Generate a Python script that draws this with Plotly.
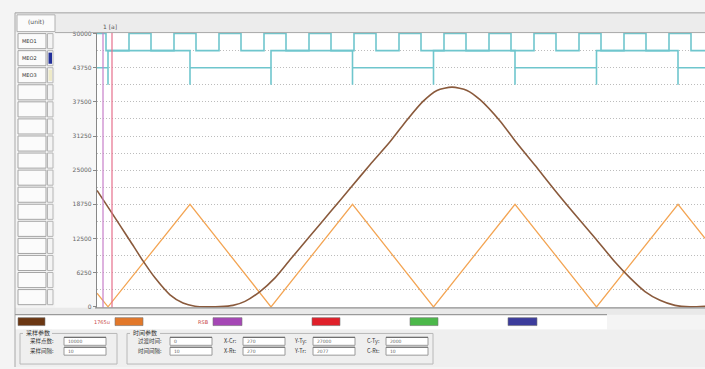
import plotly.graph_objects as go

W, H = 705, 369

# ---------------- data ----------------
# sample index (0 = left axis)
brown_x = [0, 13, 23, 33, 46, 58, 73, 86, 98, 111, 123, 136, 148, 163, 178, 193,
           213, 233, 253, 273, 293, 310, 326, 340, 355, 370, 383, 403, 418, 438,
           458, 478, 498, 518, 533, 548, 563, 578, 593, 608]
brown_y = [21300, 17700, 14900, 12100, 8400, 5300, 2200, 700, 120, 0, 40, 270, 1000,
           2800, 5300, 8600, 12950, 17300, 21650, 26000, 30200, 34200, 37600, 39600,
           40200, 39600, 37900, 34000, 30400, 25900, 21300, 16900, 12600, 8200, 5300,
           2800, 1200, 270, 0, 100]

orange_x = [0, 11, 93, 174, 255.5, 336.5, 418, 499.5, 581, 608]
orange_y = [2500, 0, 18750, 0, 18750, 0, 18750, 0, 18750, 12540]

sig1_edges = [9, 32, 54, 77, 99, 122, 144, 167, 189, 212, 234, 257, 279, 302, 324,
              347, 369, 392, 414, 437, 459, 482, 504, 527, 549, 572, 594]
sig1_levels = [50000, 46875]          # high, low
sig2_edges = [11, 93, 174, 255.5, 336.5, 418, 499.5, 581]
sig2_levels = [46875, 43750]          # high, low
sig2_mark = 40625                     # bottom of transition marks

cursor_x = [6, 15]
cursor_colors = ["#c77fc9", "#e66f8c"]

y_ticks = [0, 6250, 12500, 18750, 25000, 31250, 37500, 43750, 50000]
y_ticktext = ["0", "6250", "12500", "18750", "25000", "31250", "37500", "43750", "50000"]

row_labels = ["MEO1", "MEO2", "MEO3"]
legend_boxes = [("#6b3713", 18, 45), ("#e2782a", 115, 143), ("#a547b5", 213, 242),
                ("#e0202a", 312, 340), ("#4cb84a", 410, 438), ("#3c3c9c", 508, 537)]

X_END = 608

# ---------------- helpers ----------------
def px(x):
    return x / W

def py(y):
    return 1 - y / H

shapes = []
annos = []

def rect(x0, y0, x1, y1, fill=None, line="#a0a0a0", lw=1):
    shapes.append(dict(type="rect", xref="paper", yref="paper",
                       x0=px(x0), x1=px(x1), y0=py(y1), y1=py(y0),
                       fillcolor=fill if fill else "rgba(0,0,0,0)",
                       line=dict(color=line, width=lw if line else 0), layer="below"))

def hline(x0, x1, y, color="#a8a8a8", w=1):
    shapes.append(dict(type="line", xref="paper", yref="paper",
                       x0=px(x0), x1=px(x1), y0=py(y), y1=py(y),
                       line=dict(color=color, width=w)))

def vline(x, y0, y1, color="#a8a8a8", w=1):
    shapes.append(dict(type="line", xref="paper", yref="paper",
                       x0=px(x), x1=px(x), y0=py(y0), y1=py(y1),
                       line=dict(color=color, width=w)))

def text(x, y, s, size=6, color="#444", anchor="left", font="Noto Sans CJK SC"):
    annos.append(dict(x=px(x), y=py(y), xref="paper", yref="paper", text=s,
                      showarrow=False, xanchor=anchor, yanchor="middle",
                      font=dict(size=size, color=color, family=font)))

# ---------------- build digital traces ----------------
s1x, s1y = [0], [sig1_levels[0]]
lvl = 0
for e in sig1_edges:
    s1x += [e, e]
    s1y += [sig1_levels[lvl], sig1_levels[1 - lvl]]
    lvl = 1 - lvl
s1x.append(X_END)
s1y.append(sig1_levels[lvl])

s2x, s2y = [0], [sig2_levels[1]]
lvl = 1
for e in sig2_edges:
    s2x += [e, e, e, e]
    s2y += [sig2_levels[lvl], sig2_levels[0], sig2_mark, sig2_levels[1 - lvl]]
    lvl = 1 - lvl
s2x.append(X_END)
s2y.append(sig2_levels[lvl])

fig = go.Figure()
cyan = "#6fc6cd"
fig.add_trace(go.Scatter(x=s1x, y=s1y, mode="lines", line=dict(color=cyan, width=1.6),
                         hoverinfo="skip"))
fig.add_trace(go.Scatter(x=s2x, y=s2y, mode="lines", line=dict(color=cyan, width=1.6),
                         hoverinfo="skip"))
fig.add_trace(go.Scatter(x=orange_x, y=orange_y, mode="lines",
                         line=dict(color="#f3a554", width=1.3), hoverinfo="skip"))
fig.add_trace(go.Scatter(x=brown_x, y=brown_y, mode="lines",
                         line=dict(color="#8a5a3c", width=1.6, shape="spline", smoothing=0.7),
                         hoverinfo="skip"))
for cx, cc in zip(cursor_x, cursor_colors):
    fig.add_trace(go.Scatter(x=[cx, cx], y=[-180, 50180], mode="lines",
                             line=dict(color=cc, width=1.2), hoverinfo="skip"))

# ---------------- UI decoration ----------------
rect(15, 10, 705, 30, fill="#ececec", line=None, lw=0)
hline(15, 705, 10, "#a0a0a0")
vline(15, 10, 369, "#a8a8a8")
rect(17, 12, 55, 29, fill="#fbfbfb", line="#b0b0b0")
text(36, 19, "(unit)", size=6, color="#555", anchor="center", font="DejaVu Sans")
row_top = 30
row_h = 17.3
for i in range(16):
    y0 = row_top + i * row_h
    rect(18, y0 + 1, 46, y0 + row_h - 1, fill="#fbfbfb", line="#a5a5a5")
    rect(47.5, y0 + 1, 53, y0 + row_h - 1, fill="#f4f4f4", line="#b5b5b5")
    if i < len(row_labels):
        text(20, y0 + row_h / 2, row_labels[i], size=5, color="#333", font="DejaVu Sans")
shapes.append(dict(type="rect", xref="paper", yref="paper", x0=px(48.5), x1=px(52),
                   y0=py(row_top + 2 * row_h - 3), y1=py(row_top + row_h + 3),
                   fillcolor="#22309a", line=dict(width=0)))
rect(48.5, row_top + 2 * row_h + 3, 52, row_top + 3 * row_h - 3, fill="#eeeac8", line=None, lw=0)
rect(55, 30, 97, 309, fill="#f7f7f7", line=None, lw=0)
hline(55, 705, 30, "#a9a9a9")
text(101, 24, "1 [a]", size=6, color="#555", font="DejaVu Sans")
rect(15, 309, 705, 316, fill="#e9e9e9", line=None, lw=0)
hline(95, 705, 309, "#909090", 1.2)
rect(15, 316, 607, 331, fill="#ffffff", line=None, lw=0)
hline(15, 607, 316, "#9a9a9a", 1.2)
for c, x0, x1 in legend_boxes:
    shapes.append(dict(type="rect", xref="paper", yref="paper", x0=px(x0), x1=px(x1),
                       y0=py(327), y1=py(319), fillcolor=c, line=dict(color="#777", width=0.6)))
text(102, 323, "1765u", size=5, color="#c84848", anchor="center", font="DejaVu Sans")
text(204, 323, "RSB", size=5, color="#c84848", anchor="center", font="DejaVu Sans")

rect(15, 331, 705, 369, fill="#efefef", line=None, lw=0)
rect(20, 335, 117, 366, fill=None, line="#b8b8b8")
rect(127, 335, 433, 366, fill=None, line="#b8b8b8")
rect(23, 331, 52, 338, fill="#efefef", line=None, lw=0)
rect(130, 331, 160, 338, fill="#efefef", line=None, lw=0)
text(24, 334.5, "采样参数", size=6, color="#333")
text(131, 334.5, "时间参数", size=6, color="#333")

fields = [
    (28, 343, "采样点数:", 64, 106, "10000"),
    (28, 353, "采样间隔:", 64, 106, "10"),
    (136, 343, "过渡时间:", 170, 212, "0"),
    (136, 353, "时间间隔:", 170, 212, "10"),
    (222, 343, "X-Cr:", 243, 285, "270"),
    (222, 353, "X-Rt:", 243, 285, "270"),
    (292, 343, "Y-Ty:", 313, 355, "27000"),
    (292, 353, "Y-Tr:", 313, 355, "2077"),
    (365, 343, "C-Ty:", 386, 428, "2000"),
    (365, 353, "C-Rt:", 386, 428, "10"),
]
for lx, ly, lab, fx0, fx1, val in fields:
    text(lx, ly, lab, size=5.5, color="#333")
    rect(fx0, ly - 4, fx1, ly + 4, fill="#ffffff", line="#9a9a9a")
    hline(fx0, fx1, ly - 4, "#707070", 1.2)
    text(fx0 + 2, ly + 0.5, val, size=4.5, color="#666", font="DejaVu Sans")

fig.update_layout(
    width=W, height=H, autosize=False,
    margin=dict(l=0, r=0, t=0, b=0),
    paper_bgcolor="#f4f4f4", plot_bgcolor="#ffffff",
    showlegend=False,
    shapes=shapes, annotations=annos,
    xaxis=dict(domain=[px(97), 1], range=[0, X_END], showgrid=False, zeroline=False,
               showticklabels=False, ticks="", showline=False, fixedrange=True),
    yaxis=dict(domain=[py(309), py(30)], range=[-180, 50180],
               tickvals=y_ticks, ticktext=y_ticktext,
               tickfont=dict(size=6, color="#666", family="DejaVu Sans"),
               ticks="outside", ticklen=3, tickcolor="#888",
               showgrid=True, gridcolor="#bcbcbc", griddash="1px,2px", gridwidth=1,
               minor=dict(dtick=3125, showgrid=True, gridcolor="#bcbcbc", griddash="1px,2px",
                          ticks=""),
               zeroline=False, showline=True, linecolor="#888", linewidth=1.2,
               fixedrange=True),
)

fig.write_html("out.html", config={"displayModeBar": False},
               post_script="document.body.style.margin='0';document.body.style.overflow='hidden';")
